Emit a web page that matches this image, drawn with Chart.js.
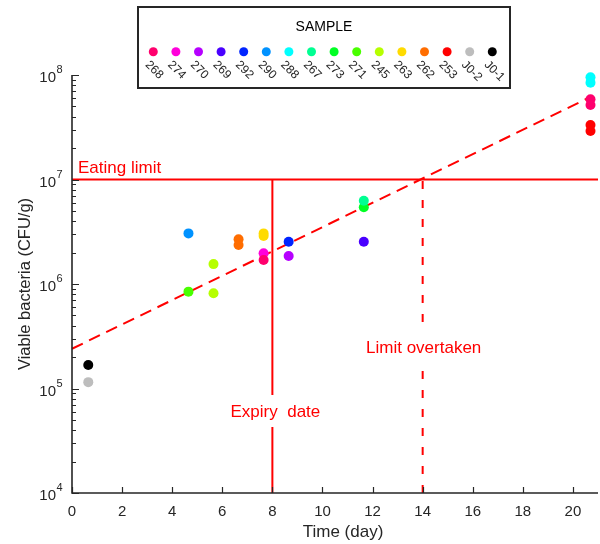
<!DOCTYPE html>
<html><head><meta charset="utf-8">
<script src="https://cdn.jsdelivr.net/npm/chart.js@4.4.1/dist/chart.umd.min.js"></script>
<style>html,body{margin:0;padding:0;background:#fff;overflow:hidden}</style>
</head><body>
<canvas id="c" width="600" height="544"></canvas>
<script>
// ---- data ----
const sampleNames  = ['268','274','270','269','292','290','288','267','273','271','245','263','262','253','J0-2','J0-1'];
const sampleColors = ['#ff006d','#ff00db','#b600ff','#4900ff','#0024ff','#0092ff','#00ffff','#00ff92','#00ff24','#49ff00','#b6ff00','#ffdb00','#ff6d00','#ff0000','#bdbdbd','#000000'];
const sampleDays = [
  [7.65, 20.7, 20.7],   // 268
  [7.65],               // 274
  [8.65],               // 270
  [11.65],              // 269
  [8.65],               // 292
  [4.65],               // 290
  [20.7, 20.7],         // 288
  [11.65],              // 267
  [11.65],              // 273
  [4.65],               // 271
  [5.65, 5.65],         // 245
  [7.65, 7.65],         // 263
  [6.65, 6.65],         // 262
  [20.7, 20.7],         // 253
  [0.65],               // J0-2
  [0.65]                // J0-1
];
const sampleCfu = [
  [1.70e6, 5.85e7, 5.16e7],
  [1.97e6],
  [1.85e6],
  [2.54e6],
  [2.54e6],
  [3.05e6],
  [9.5e7, 8.45e7],
  [6.27e6],
  [5.42e6],
  [8.45e5],
  [1.55e6, 8.15e5],
  [3.05e6, 2.88e6],
  [2.68e6, 2.36e6],
  [3.32e7, 2.91e7],
  [1.15e5],
  [1.68e5]
];
const trendDays = [0, 20.6];
const trendCfu  = [2.4e5, 6.0e7];
const eatingLimitCfu = 1e7;
const expiryDay = 8;
const overtakeDay = 14;
const xTickValues = [0, 2, 4, 6, 8, 10, 12, 14, 16, 18, 20];
const yTickValues = [1e4, 1e5, 1e6, 1e7, 1e8];
const yTickExponents = ['4', '5', '6', '7', '8'];
const legendTitle = 'SAMPLE';
const xTitle = 'Time (day)';
const yTitle = 'Viable bacteria (CFU/g)';
const noteEating = 'Eating limit';
const noteExpiry = 'Expiry  date';
const noteOvertaken = 'Limit overtaken';

const FONT = "'Liberation Sans', Arial, Helvetica, sans-serif";
const INK = '#262626';
const RED = '#ff0000';

const datasets = [];
sampleNames.forEach((name, i) => {
  datasets.push({
    label: name,
    isSample: true,
    data: sampleDays[i].map((d, j) => ({x: d, y: sampleCfu[i][j]})),
    backgroundColor: sampleColors[i],
    borderColor: sampleColors[i],
    pointRadius: 5,
    pointBorderWidth: 0,
    showLine: false,
    clip: false,
    order: 0
  });
});
function lineSet(xs, ys, dash) {
  return {
    label: '', type: 'line', showLine: true,
    data: xs.map((x, i) => ({x: x, y: ys[i]})),
    borderColor: RED, borderWidth: 2, borderDash: dash || [],
    pointRadius: 0, fill: false, tension: 0, order: 1, clip: false
  };
}
datasets.push(lineSet([0, 21], [eatingLimitCfu, eatingLimitCfu]));
datasets.push(lineSet([expiryDay, expiryDay], [1e4, eatingLimitCfu]));
datasets.push(lineSet([overtakeDay, overtakeDay], [1e4, eatingLimitCfu], [8, 11]));
datasets.push(lineSet(trendDays, trendCfu, [12, 7]));

function noteBox(ctx, text, cx, baseline) {
  ctx.font = '17px ' + FONT;
  const w = ctx.measureText(text).width;
  const left = cx - w / 2;
  ctx.fillStyle = '#fff';
  ctx.fillRect(left - 3, baseline - 22, w + 6, 32);
  ctx.fillStyle = RED;
  ctx.textAlign = 'left';
  ctx.textBaseline = 'alphabetic';
  ctx.fillText(text, left, baseline);
}

const decor = {
  id: 'decor',
  beforeDraw(chart) {
    const ctx = chart.ctx;
    ctx.save();
    ctx.fillStyle = '#fff';
    ctx.fillRect(0, 0, chart.width, chart.height);
    ctx.restore();
  },
  afterDatasetsDraw(chart) {
    const ctx = chart.ctx;
    const xs = chart.scales.x, ys = chart.scales.y;
    ctx.save();
    ctx.font = '17px ' + FONT;
    ctx.fillStyle = RED;
    ctx.textAlign = 'left';
    ctx.textBaseline = 'alphabetic';
    ctx.fillText(noteEating, xs.getPixelForValue(0) + 6, ys.getPixelForValue(eatingLimitCfu) - 7);
    noteBox(ctx, noteExpiry, xs.getPixelForValue(expiryDay) + 3, 417);
    noteBox(ctx, noteOvertaken, xs.getPixelForValue(overtakeDay) + 1, 353);
    ctx.restore();
  },
  afterDraw(chart) {
    const ctx = chart.ctx;
    const xs = chart.scales.x, ys = chart.scales.y;
    const a = chart.chartArea;
    ctx.save();
    // axis lines
    ctx.strokeStyle = INK;
    ctx.lineWidth = 1.6;
    ctx.beginPath();
    ctx.moveTo(a.left, a.top);
    ctx.lineTo(a.left, a.bottom);
    ctx.lineTo(a.right, a.bottom);
    ctx.stroke();
    // x ticks (inward)
    ctx.lineWidth = 1.2;
    ctx.beginPath();
    xTickValues.forEach(v => {
      const px = Math.round(xs.getPixelForValue(v)) + 0.5;
      ctx.moveTo(px, a.bottom);
      ctx.lineTo(px, a.bottom - 6);
    });
    // y ticks (major + minor, inward)
    yTickValues.forEach((v, i) => {
      const py = Math.round(ys.getPixelForValue(v)) + 0.5;
      ctx.moveTo(a.left, py);
      ctx.lineTo(a.left + 7, py);
      if (i < yTickValues.length - 1) {
        for (let m = 2; m <= 9; m++) {
          const qy = Math.round(ys.getPixelForValue(v * m)) + 0.5;
          ctx.moveTo(a.left, qy);
          ctx.lineTo(a.left + 4, qy);
        }
      }
    });
    ctx.stroke();
    // y labels 10^n
    ctx.fillStyle = INK;
    yTickValues.forEach((v, i) => {
      const py = ys.getPixelForValue(v);
      ctx.font = '15px ' + FONT;
      ctx.textAlign = 'right';
      ctx.textBaseline = 'middle';
      ctx.fillText('10', 56, py + 3);
      ctx.font = '11px ' + FONT;
      ctx.textAlign = 'left';
      ctx.fillText(yTickExponents[i], 56.5, py - 5);
    });
    // axis titles
    ctx.font = '17px ' + FONT;
    ctx.textAlign = 'center';
    ctx.textBaseline = 'middle';
    ctx.fillText(xTitle, 343, 532);
    ctx.save();
    ctx.translate(25, (a.top + a.bottom) / 2);
    ctx.rotate(-Math.PI / 2);
    ctx.font = '16.5px ' + FONT;
    ctx.fillText(yTitle, 0, 0);
    ctx.restore();
    // legend
    const lx = 138, ly = 7, lw = 372, lh = 81;
    ctx.fillStyle = '#fff';
    ctx.fillRect(lx, ly, lw, lh);
    ctx.strokeStyle = INK;
    ctx.lineWidth = 2;
    ctx.strokeRect(lx, ly, lw, lh);
    ctx.fillStyle = '#000';
    ctx.font = '14px ' + FONT;
    ctx.textAlign = 'center';
    ctx.textBaseline = 'middle';
    ctx.fillText(legendTitle, lx + lw / 2, 27);
    const items = chart.data.datasets.filter(d => d.isSample);
    items.forEach((d, i) => {
      const cx = 153.3 + i * 22.6, cy = 51.7;
      ctx.fillStyle = d.backgroundColor;
      ctx.beginPath();
      ctx.arc(cx, cy, 4.5, 0, Math.PI * 2);
      ctx.fill();
      ctx.save();
      ctx.translate(cx - 2, cy + 7);
      ctx.rotate(Math.PI / 4);
      ctx.fillStyle = INK;
      ctx.font = '12px ' + FONT;
      ctx.textAlign = 'left';
      ctx.textBaseline = 'top';
      ctx.fillText(d.label, 0, 0);
      ctx.restore();
    });
    ctx.restore();
  }
};

new Chart(document.getElementById('c'), {
  type: 'scatter',
  data: { datasets: datasets },
  options: {
    responsive: false,
    animation: false,
    devicePixelRatio: 1,
    layout: { autoPadding: false, padding: { top: 75, right: 2, left: 0, bottom: 0 } },
    plugins: { legend: { display: false }, tooltip: { enabled: false } },
    scales: {
      x: {
        type: 'linear', min: 0, max: 21,
        grid: { display: false, drawTicks: false },
        border: { display: false },
        afterBuildTicks: s => { s.ticks = xTickValues.map(v => ({value: v})); },
        afterFit: s => { s.height = 51; s.paddingLeft = 0; s.paddingRight = 0; },
        ticks: { autoSkip: false, maxRotation: 0, padding: 10, color: INK, font: { size: 15, family: FONT } }
      },
      y: {
        type: 'logarithmic', min: 1e4, max: 1e8,
        grid: { display: false, drawTicks: false },
        border: { display: false },
        afterFit: s => { s.width = 72; s.paddingTop = 0; s.paddingBottom = 0; },
        ticks: { display: false }
      }
    }
  },
  plugins: [decor]
});
</script>
</body></html>
